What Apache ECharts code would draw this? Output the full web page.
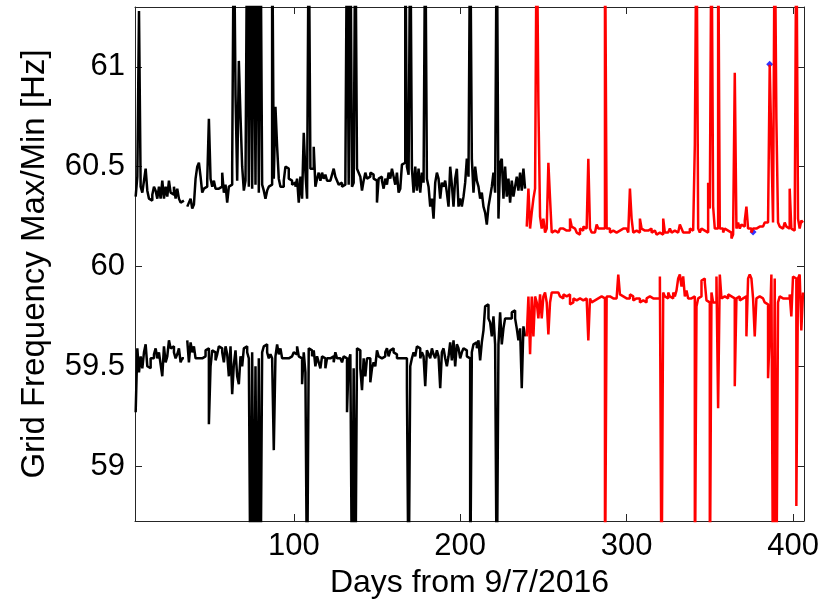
<!DOCTYPE html>
<html>
<head>
<meta charset="utf-8">
<script src="https://cdn.jsdelivr.net/npm/echarts@6.0.0/dist/echarts.min.js"></script>
<style>
html, body { margin: 0; padding: 0; background: #fff; }
#chart { width: 832px; height: 604px; }
</style>
</head>
<body>
<div id="chart"></div>
<script>
// daily max / min grid frequency (61.8 / 58.3 = off the chart)
var blackStartDay = 5;
var blackMax = [
  60.35, 60.45, 61.28, 60.40, 60.37,
  60.43, 60.49, 60.38, 60.34, 60.33, 60.36, 60.40, 60.38, 60.34, 60.40,
  60.34, 60.43, 60.34, 60.40, 60.35, 60.43, 60.37, 60.36, 60.40, 60.34,
  60.39, 60.34, 60.32, 60.33, null, null, 60.30, 60.32, 60.34, 60.29,
  60.31, 60.44, 60.50, 60.52, 60.45, 60.37, 60.39, 60.40, 60.43, 60.74,
  60.44, 60.40, 60.43, 60.39, 60.39, 60.38, 60.40, 60.47, 60.37, 60.41,
  60.32, 60.40, 60.41, 60.50, 61.8, 60.86, 60.43, 61.03, 60.75, 60.50,
  60.38, 60.43, 61.8, 60.40, 61.8, 60.39, 61.8, 60.41, 61.8, 60.37,
  61.8, 60.41, 60.38, 60.34, 60.38, 60.40, 60.41, 61.8, 60.44, 60.80,
  60.60, 60.44, 60.40, 60.40, 60.43, 60.50, 60.49, 60.44, 60.43, 60.41,
  60.42, 60.40, 60.44, 60.32, 60.45, 60.34, 60.67, 60.47, 60.34, 61.8,
  60.49, 60.49, 60.60, 60.40, 60.44, 60.47, 60.43, 60.47, 60.44, 60.46,
  60.43, 60.43, 60.43, 60.46, 60.49, 60.45, 60.43, 60.41, 60.42, 60.40,
  60.41, 60.43, 61.8, 60.41, 61.8, 60.40, 60.42, 61.8, 60.49, 60.47,
  60.45, 60.38, 60.43, 60.47, 60.44, 60.45, 60.47, 60.46, 60.44, 60.43,
  60.32, 60.44, 60.45, 60.43, 60.39, 60.44, 60.41, 60.47, 60.44, 60.49,
  60.45, 60.41, 60.47, 60.37, 60.39, 60.51, 60.52, 61.8, 60.50, 60.46,
  61.8, 60.49, 60.37, 60.50, 60.38, 60.49, 60.37, 60.47, 60.42, 61.8,
  60.44, 60.40, 60.30, 60.34, 60.24, 60.42, 60.47, 60.44, 60.34, 60.42,
  60.40, 60.43, 60.37, 60.30, 60.50, 60.41, 60.30, 60.44, 60.49, 60.30,
  60.34, 60.30, 60.35, 60.42, 60.54, 60.45, 61.8, 60.54, 60.37, 60.50,
  60.43, 60.40, 60.34, 60.37, 60.30, 60.27, 60.21, 60.30, 60.35, 60.40,
  60.47, 60.37, 61.8, 60.24, 60.52, 60.54, 60.34, 60.50, 60.35, 60.44,
  60.32, 60.43, 60.35, 60.40, 60.45, 60.38, 60.47, 60.38, 60.49, 60.39
];
var blackMin = [
  59.27, 59.59, 59.47, 59.55, 59.49,
  59.57, 59.61, 59.50, 59.49, 59.54, 59.54, 59.56, 59.59, 59.54, 59.57,
  59.51, 59.45, 59.60, 59.52, 59.55, 59.63, 59.59, 59.60, 59.57, 59.54,
  59.56, 59.59, 59.52, 59.54, null, null, 59.63, 59.52, 59.62, 59.57,
  59.60, 59.54, 59.54, 59.54, 59.54, 59.54, 59.55, 59.58, 59.59, 59.21,
  59.50, 59.58, 59.57, 59.53, 59.56, 59.60, 59.59, 59.57, 59.52, 59.60,
  59.56, 59.45, 59.60, 59.36, 59.51, 59.58, 59.45, 59.41, 59.55, 59.50,
  59.59, 59.60, 59.57, 59.54, 58.3, 59.57, 58.3, 59.50, 58.3, 59.54,
  58.3, 59.57, 59.60, 59.61, 59.57, 59.54, 59.56, 59.54, 59.08, 59.55,
  59.61, 59.56, 59.59, 59.54, 59.54, 59.55, 59.54, 59.54, 59.55, 59.54,
  59.57, 59.56, 59.60, 59.55, 59.54, 59.41, 59.57, 59.47, 58.3, 59.59,
  59.58, 59.55, 59.58, 59.50, 59.55, 59.52, 59.49, 59.55, 59.54, 59.49,
  59.54, 59.54, 59.54, 59.55, 59.52, 59.57, 59.54, 59.54, 59.53, 59.52,
  59.55, 59.54, 59.27, 59.53, 59.56, 58.3, 59.49, 58.3, 59.59, 59.58,
  59.49, 59.38, 59.54, 59.45, 59.54, 59.54, 59.42, 59.49, 59.52, 59.50,
  59.58, 59.55, 59.54, 59.54, 59.55, 59.57, 59.59, 59.55, 59.58, 59.59,
  59.57, 59.56, 59.54, 59.54, 59.54, 59.54, 59.54, 59.54, 59.39, 58.3,
  59.50, 59.54, 59.57, 59.55, 59.60, 59.59, 59.54, 59.57, 59.55, 59.40,
  59.58, 59.56, 59.54, 59.59, 59.56, 59.54, 59.58, 59.55, 59.39, 59.57,
  59.59, 59.54, 59.50, 59.55, 59.62, 59.53, 59.63, 59.50, 59.61, 59.59,
  59.54, 59.57, 59.59, 59.58, 59.55, 59.54, 58.3, 59.57, 59.61, 59.62,
  59.59, 59.63, 59.53, 59.62, 59.68, 59.80, 59.81, 59.74, 59.72, 59.65,
  59.75, 59.61, 58.3, 59.61, 59.77, 59.61, 59.69, 59.74, 59.74, 59.75,
  59.74, 59.77, 59.78, 59.74, 59.69, 59.63, 59.69, 59.39, 59.70, 59.65
];

var redStartDay = 240;
var redMax = [
  60.20, 60.39, 60.19, 60.27, 60.34, 60.39, 61.8, 60.81, 60.25, 60.19,
  60.24, 60.17, 60.19, 60.52, 60.34, 60.17, 60.18, 60.17, 60.17, 60.17,
  60.19, 60.19, 60.20, 60.18, 60.19, 60.18, 60.24, 60.20, 60.19, 60.18,
  60.17, 60.16, 60.19, 60.18, 60.20, 60.19, 60.20, 60.54, 60.19, 60.17,
  60.17, 60.17, 60.21, 60.19, 60.19, 60.18, 60.19, 61.8, 60.19, 60.19,
  60.17, 60.18, 60.19, 60.17, 60.17, 60.18, 60.17, 60.19, 60.18, 60.19,
  60.19, 60.17, 60.39, 60.24, 60.17, 60.18, 60.19, 60.17, 60.24, 60.19,
  60.18, 60.19, 60.18, 60.17, 60.19, 60.17, 60.18, 60.17, 60.16, 60.17,
  60.17, 60.16, 60.24, 60.17, 60.17, 60.16, 60.19, 60.17, 60.18, 60.19,
  60.17, 60.17, 60.21, 60.19, 60.17, 60.17, 60.17, 60.17, 60.19, 60.18,
  60.17, 60.61, 61.8, 60.19, 60.17, 60.19, 60.18, 60.19, 60.17, 60.42,
  60.29, 61.8, 60.30, 60.19, 60.19, 61.8, 60.19, 60.19, 60.17, 60.19,
  60.18, 60.19, 60.17, 60.14, 60.16, 60.97, 60.19, 60.22, 60.19, 60.21,
  60.20, 60.23, 60.30, 60.19, 60.19, 60.17, 60.19, 60.19, 60.20, 60.20,
  60.21, 60.20, 60.20, 60.22, 60.22, 60.22, 61.01, 60.61, 60.22, 61.8,
  60.74, 60.22, 60.20, 60.19, 60.20, 60.22, 60.20, 60.19, 60.39, 60.19,
  60.18, 60.19, 61.8, 60.24, 60.19, 60.23, 60.22
];
var redMin = [
  59.65, 59.85, 59.56, 59.85, 59.65, 59.85, 59.82, 59.74, 59.86, 59.74,
  59.85, 59.87, 59.82, 59.66, 59.82, 59.87, 59.87, 59.86, 59.87, 59.87,
  59.85, 59.84, 59.86, 59.85, 59.85, 59.86, 59.81, 59.82, 59.84, 59.83,
  59.84, 59.84, 59.85, 59.83, 59.84, 59.84, 59.83, 59.63, 59.84, 59.82,
  59.83, 59.82, 59.84, 59.85, 59.85, 59.84, 59.84, 58.3, 59.85, 59.85,
  59.86, 59.84, 59.85, 59.84, 59.85, 59.96, 59.86, 59.85, 59.84, 59.84,
  59.85, 59.84, 59.86, 59.85, 59.83, 59.84, 59.85, 59.84, 59.82, 59.83,
  59.84, 59.82, 59.84, 59.85, 59.84, 59.84, 59.85, 59.84, 59.85, 59.84,
  59.95, 58.3, 59.87, 59.85, 59.84, 59.87, 59.85, 59.84, 59.87, 59.85,
  59.88, 59.94, 59.96, 59.90, 59.95, 59.85, 59.88, 59.84, 59.84, 59.83,
  59.85, 58.3, 59.80, 59.84, 59.85, 59.93, 59.94, 59.92, 59.83, 59.82,
  58.3, 59.87, 59.82, 59.82, 59.95, 59.29, 59.96, 59.84, 59.85, 59.84,
  59.84, 59.86, 59.85, 59.84, 59.84, 59.40, 59.84, 59.85, 59.83, 59.84,
  59.84, 59.85, 59.65, 59.94, 59.96, 59.94, 59.84, 59.65, 59.84, 59.85,
  59.84, 59.84, 59.83, 59.82, 59.81, 59.44, 59.66, 59.96, 58.3, 59.94,
  58.3, 59.82, 59.85, 59.84, 59.85, 59.84, 59.85, 59.84, 59.86, 59.75,
  59.95, 59.94, 58.80, 59.94, 59.96, 59.68, 59.87
];

// the two blue marks
var markDays = [376, 386];
var markValues = [60.173, 61.013];

var xTicks = [100, 200, 300, 400];
var yTicks = [59, 59.5, 60, 60.5, 61];

function toPairs(startDay, values) {
  var out = [];
  for (var i = 0; i < values.length; i++) {
    out.push([startDay + i, values[i] === null ? '-' : values[i]]);
  }
  return out;
}

var font = 'Liberation Sans, Arial, Helvetica, sans-serif';
var axisColor = '#262626';

function boxAxis(pos, ticks, min, max, withLabels) {
  var ax = {
    type: 'value',
    position: pos,
    min: min,
    max: max,
    axisLine: { show: true, onZero: false, lineStyle: { color: axisColor, width: 1 } },
    axisTick: { show: true, inside: true, length: 7, customValues: ticks, lineStyle: { color: axisColor, width: 1 } },
    axisLabel: { show: withLabels, customValues: ticks, margin: 10, color: '#000', fontSize: 31, fontFamily: font },
    splitLine: { show: false }
  };
  return ax;
}

var xBottom = boxAxis('bottom', xTicks, 4.6, 406.6, true);
xBottom.name = 'Days from 9/7/2016';
xBottom.nameLocation = 'middle';
xBottom.nameGap = 46;
xBottom.nameTextStyle = { fontSize: 32, color: '#000', fontFamily: font };

var yLeft = boxAxis('left', yTicks, 58.725, 61.3, true);
yLeft.name = 'Grid Frequency Max/Min [Hz]';
yLeft.nameLocation = 'middle';
yLeft.nameGap = 84;
yLeft.nameTextStyle = { fontSize: 33, color: '#000', fontFamily: font };

var lineStyleFor = function (c) {
  return {
    type: 'line',
    step: 'end',
    showSymbol: false,
    clip: true,
    silent: true,
    lineStyle: { color: c, width: 2.5 },
    itemStyle: { color: c }
  };
};

var sBlackMax = lineStyleFor('#000000'); sBlackMax.data = toPairs(blackStartDay, blackMax);
var sBlackMin = lineStyleFor('#000000'); sBlackMin.data = toPairs(blackStartDay, blackMin);
var sRedMax = lineStyleFor('#ff0000'); sRedMax.data = toPairs(redStartDay, redMax);
var sRedMin = lineStyleFor('#ff0000'); sRedMin.data = toPairs(redStartDay, redMin);

var chart = echarts.init(document.getElementById('chart'));
chart.setOption({
  animation: false,
  backgroundColor: '#ffffff',
  grid: { left: 135, right: 28, top: 7, bottom: 81, containLabel: false },
  xAxis: [xBottom, boxAxis('top', xTicks, 4.6, 406.6, false)],
  yAxis: [yLeft, boxAxis('right', yTicks, 58.725, 61.3, false)],
  series: [
    sBlackMax, sBlackMin, sRedMax, sRedMin,
    {
      type: 'scatter',
      symbol: 'diamond',
      symbolSize: 7,
      silent: true,
      itemStyle: { color: '#0000ff' },
      data: markDays.map(function (d, i) { return [d, markValues[i]]; })
    }
  ]
});
</script>
</body>
</html>
